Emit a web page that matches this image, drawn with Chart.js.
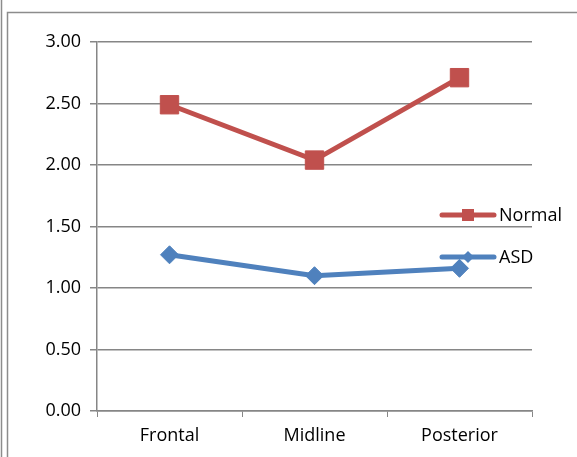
<!DOCTYPE html>
<html>
<head>
<meta charset="utf-8">
<script src="https://cdn.jsdelivr.net/npm/chart.js@4/dist/chart.umd.min.js"></script>
<style>
  html, body { margin: 0; padding: 0; background: #fff; }
  #wrap { width: 577px; height: 457px; position: relative; }
</style>
</head>
<body>
<div id="wrap"><canvas id="chart" width="577" height="457"></canvas></div>
<script>
// data
const regions = ["Frontal", "Midline", "Posterior"];
const normalVals = [2.49, 2.04, 2.71];
const asdVals = [1.27, 1.10, 1.16];
const yTicks = [0, 0.5, 1, 1.5, 2, 2.5, 3];

const RED = "#C0504D", BLUE = "#4F81BD", GRID = "#868686";
const FONT = "'Open Sans', 'Liberation Sans', sans-serif";
const FSIZE = 18;

// frame lines around the chart
const framePlugin = {
  id: "frame",
  beforeDraw(chart) {
    const ctx = chart.ctx;
    ctx.save();
    ctx.strokeStyle = "#8c8c8c";
    ctx.lineWidth = 1.5;
    ctx.beginPath();
    ctx.moveTo(1.5, 0); ctx.lineTo(1.5, 457);
    ctx.moveTo(7.5, 460); ctx.lineTo(7.5, 12.5); ctx.lineTo(580, 12.5);
    ctx.stroke();
    ctx.restore();
  }
};

// excel style legend sitting inside the plot, on the right
const legendPlugin = {
  id: "xlLegend",
  afterDatasetsDraw(chart) {
    const ctx = chart.ctx;
    const items = [
      { label: "Normal", color: RED, style: "rect", y: 215 },
      { label: "ASD", color: BLUE, style: "rectRot", y: 257 }
    ];
    ctx.save();
    items.forEach(it => {
      ctx.strokeStyle = it.color;
      ctx.lineWidth = 5;
      ctx.lineCap = "round";
      ctx.beginPath();
      ctx.moveTo(442, it.y); ctx.lineTo(494, it.y);
      ctx.stroke();
      ctx.fillStyle = it.color;
      ctx.beginPath();
      if (it.style === "rect") {
        ctx.rect(462, it.y - 6, 12, 12);
      } else {
        ctx.moveTo(468, it.y - 6); ctx.lineTo(474, it.y);
        ctx.lineTo(468, it.y + 6); ctx.lineTo(462, it.y);
        ctx.closePath();
      }
      ctx.fill();
      ctx.fillStyle = "#000";
      ctx.font = FSIZE + "px " + FONT;
      ctx.textBaseline = "middle";
      ctx.fillText(it.label, 499, it.y + 1);
    });
    ctx.restore();
  }
};

new Chart(document.getElementById("chart"), {
  type: "line",
  data: {
    labels: regions,
    datasets: [
      {
        label: "ASD", data: asdVals,
        borderColor: BLUE, backgroundColor: BLUE, borderWidth: 5,
        pointStyle: "rectRot", pointRadius: 9, pointBorderWidth: 1,
        pointBorderColor: BLUE, tension: 0
      },
      {
        label: "Normal", data: normalVals,
        borderColor: RED, backgroundColor: RED, borderWidth: 5,
        pointStyle: "rect", pointRadius: 13, pointBorderWidth: 1,
        pointBorderColor: RED, tension: 0
      }
    ]
  },
  options: {
    responsive: false,
    animation: false,
    events: [],
    layout: { padding: { left: 0, top: 42, right: 45, bottom: 0 } },
    plugins: { legend: { display: false }, tooltip: { enabled: false } },
    scales: {
      x: {
        offset: true,
        afterFit: s => { s.height = 46; },
        grid: { drawOnChartArea: false, color: GRID, tickLength: 6, offset: true },
        border: { color: GRID, width: 1.5 },
        ticks: { color: "#000", padding: 8, font: { family: FONT, size: FSIZE } }
      },
      y: {
        min: 0, max: 3,
        afterFit: s => { s.width = 97; },
        afterBuildTicks: s => { s.ticks = yTicks.map(v => ({ value: v })); },
        grid: { color: GRID, lineWidth: 1.5, tickLength: 7 },
        border: { color: GRID, width: 1.5 },
        ticks: {
          color: "#000", padding: 9, font: { family: FONT, size: FSIZE },
          callback: v => Number(v).toFixed(2)
        }
      }
    }
  },
  plugins: [framePlugin, legendPlugin]
});
</script>
</body>
</html>
